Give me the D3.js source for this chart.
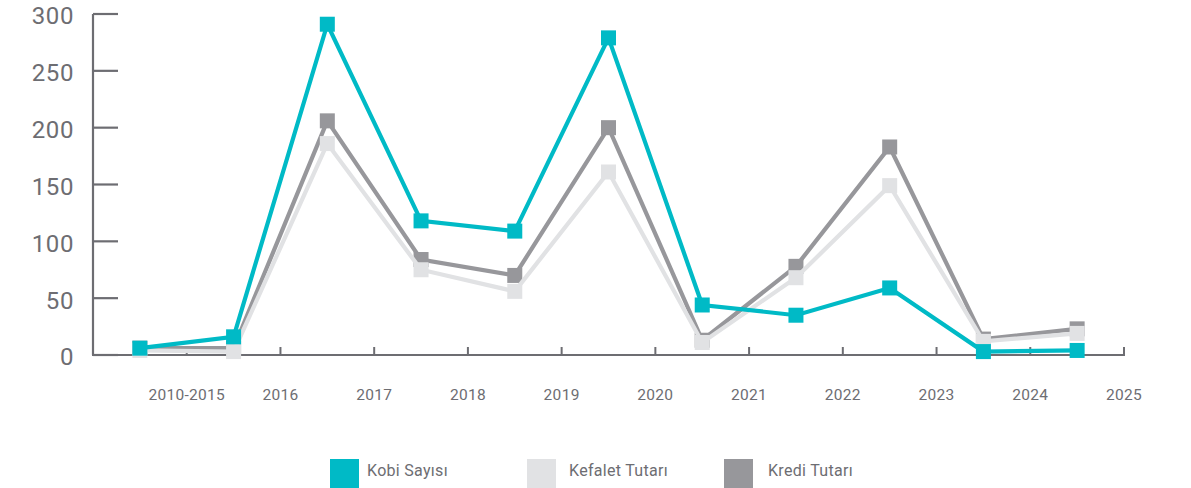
<!DOCTYPE html>
<html>
<head>
<meta charset="utf-8">
<script src="https://cdn.jsdelivr.net/npm/d3@7"></script>
<style>
  body { margin: 0; background: #fff; }
  svg { display: block; font-family: Roboto, "Noto Sans", sans-serif; }
</style>
</head>
<body>
<svg id="chart" width="1191" height="488"></svg>
<script>
// Data
const categories = ["2010-2015", "2016", "2017", "2018", "2019", "2020", "2021", "2022", "2023", "2024", "2025"];
const kobiSayisi = [6, 16, 291, 118, 109, 279, 44, 35, 59, 3, 4];
const kefaletTutari = [4, 3, 186, 75, 56, 161, 11, 68, 149, 12, 19];
const krediTutari = [6, 6, 206, 84, 70, 200, 13, 78, 183, 14, 23];
const yTicks = [0, 50, 100, 150, 200, 250, 300];

const colors = {
    kobi: "#00bac6",
    kefalet: "#e1e2e4",
    kredi: "#97979b",
    axis: "#6d6d72"
};

const series = [
    // drawing order: dark, light, teal on top
    { name: "Kredi Tutarı", values: krediTutari, color: colors.kredi },
    { name: "Kefalet Tutarı", values: kefaletTutari, color: colors.kefalet },
    { name: "Kobi Sayısı", values: kobiSayisi, color: colors.kobi }
];
const legendItems = [
    { name: "Kobi Sayısı", color: colors.kobi },
    { name: "Kefalet Tutarı", color: colors.kefalet },
    { name: "Kredi Tutarı", color: colors.kredi }
];

const svg = d3.select("#chart");
const margin = { left: 93, right: 1124, top: 14, bottom: 355 };

const x = d3.scaleBand()
    .domain(categories)
    .range([margin.left, margin.right])
    .padding(0);
const bw = x.bandwidth();

const y = d3.scaleLinear()
    .domain([0, 300])
    .range([margin.bottom, margin.top]);

// Y axis
const yAxis = svg.append("g");
yAxis.append("line")
    .attr("x1", margin.left).attr("x2", margin.left)
    .attr("y1", y(300)).attr("y2", y(0))
    .attr("stroke", colors.axis).attr("stroke-width", 2.2);
yAxis.selectAll(".ytick")
    .data(yTicks)
    .join("line")
    .attr("x1", margin.left).attr("x2", margin.left + 25)
    .attr("y1", d => y(d)).attr("y2", d => y(d))
    .attr("stroke", colors.axis).attr("stroke-width", 2.2);
yAxis.selectAll(".ylabel")
    .data(yTicks)
    .join("text")
    .attr("x", 74)
    .attr("y", d => y(d) + 4)
    .attr("text-anchor", "end")
    .attr("dominant-baseline", "middle")
    .attr("fill", colors.axis)
    .style("font-size", "24px")
    .style("letter-spacing", "0.6px")
    .text(d => d);

// X axis
const xAxis = svg.append("g");
xAxis.append("line")
    .attr("x1", margin.left - 1).attr("x2", margin.right + 1)
    .attr("y1", y(0)).attr("y2", y(0))
    .attr("stroke", colors.axis).attr("stroke-width", 2.2);
xAxis.selectAll(".xtick")
    .data(categories)
    .join("line")
    .attr("x1", d => x(d) + bw).attr("x2", d => x(d) + bw)
    .attr("y1", y(0))
    .attr("y2", (d, i) => y(0) - (i === 0 ? 2 : 8))
    .attr("stroke", colors.axis).attr("stroke-width", 2);
xAxis.selectAll(".xlabel")
    .data(categories)
    .join("text")
    .attr("x", d => x(d) + bw)
    .attr("y", 396)
    .attr("text-anchor", "middle")
    .attr("dominant-baseline", "middle")
    .attr("fill", colors.axis)
    .style("font-size", "15.5px")
    .style("letter-spacing", "0.3px")
    .text(d => d);

// Lines and markers
const line = d3.line()
    .x((d, i) => x(categories[i]) + bw / 2)
    .y(d => y(d));

series.forEach(s => {
    const g = svg.append("g");
    g.append("path")
        .datum(s.values)
        .attr("d", line)
        .attr("fill", "none")
        .attr("stroke", s.color)
        .attr("stroke-width", 4.2)
        .attr("stroke-linejoin", "miter");
    g.selectAll("rect")
        .data(s.values)
        .join("rect")
        .attr("x", (d, i) => x(categories[i]) + bw / 2 - 7.5)
        .attr("y", d => y(d) - 7.5)
        .attr("width", 15)
        .attr("height", 15)
        .attr("fill", s.color);
});

// Legend
const legendX = [330, 527, 724];
const legendGap = [8, 13, 15];
const legend = svg.append("g");
legendItems.forEach((item, i) => {
    legend.append("rect")
        .attr("x", legendX[i]).attr("y", 459)
        .attr("width", 29).attr("height", 29)
        .attr("fill", item.color);
    legend.append("text")
        .attr("x", legendX[i] + 29 + legendGap[i])
        .attr("y", 472)
        .attr("dominant-baseline", "middle")
        .attr("fill", colors.axis)
        .style("font-size", "16px")
        .style("letter-spacing", "0.3px")
        .text(item.name);
});
</script>
</body>
</html>
